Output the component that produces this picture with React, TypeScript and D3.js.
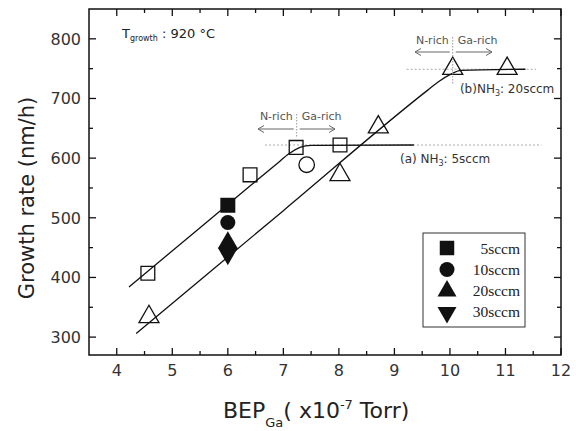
import React from "react";
import * as d3 from "d3";

// ---------- data ----------
const openSquareBep = [4.56, 6.4, 7.23, 8.02];
const openSquareRate = [407, 572, 618, 622];
const openTriangleBep = [4.58, 8.02, 8.71, 10.05, 11.03];
const openTriangleRate = [334, 572, 652, 750, 750];
const openCircleBep = [7.42];
const openCircleRate = [589];

const legendNames = ["5sccm", "10sccm", "20sccm", "30sccm"];
const filledBep = [6.0, 6.0, 6.0, 6.0];
const filledRate = [521, 492, 458, 440];

const fitABep = [4.22, 5.5, 6.9, 7.1, 7.3, 7.5, 9.35];
const fitARate = [384, 483.5, 592, 607.5, 618, 621.5, 622];
const fitBBep = [4.35, 7.0, 9.6, 9.8, 10.0, 10.2, 11.36];
const fitBRate = [306, 512, 714, 728.5, 740, 747, 749];

const satARate = 622;
const satBRate = 749;

const xMajorTicks = [4, 5, 6, 7, 8, 9, 10, 11, 12];
const yMajorTicks = [300, 400, 500, 600, 700, 800];

// ---------- layout ----------
const W = 576;
const H = 431;
const L = 89, R = 561, T = 9, B = 355;

const x = d3.scaleLinear().domain([3.5, 12]).range([L, R]);
const y = d3.scaleLinear().domain([270, 850]).range([B, T]);

const sans = "DejaVu Sans, Arial, sans-serif";
const serif = "Liberation Serif, Times New Roman, serif";

const sym = (type: any, size: number) => d3.symbol().type(type).size(size)() as string;
const triSize = (side: number) => Math.pow(side / (2 * Math.sqrt(3)), 2) * 3 * Math.sqrt(3);

const filledShapes = [
  { path: sym(d3.symbolSquare, 225), rot: 0 },
  { path: sym(d3.symbolCircle, 177), rot: 0 },
  { path: sym(d3.symbolTriangle, triSize(20)), rot: 0 },
  { path: sym(d3.symbolTriangle, triSize(20)), rot: 180 },
];
const legendShapes = [
  { path: sym(d3.symbolSquare, 210), rot: 0 },
  { path: sym(d3.symbolCircle, 177), rot: 0 },
  { path: sym(d3.symbolTriangle, triSize(19)), rot: 0 },
  { path: sym(d3.symbolTriangle, triSize(19)), rot: 180 },
];

function Arrow({ x1, x2, yy }: { x1: number; x2: number; yy: number }) {
  const dir = x2 < x1 ? 1 : -1;
  return (
    <g stroke="#666" strokeWidth={1} fill="none">
      <line x1={x1} x2={x2} y1={yy} y2={yy} />
      <polyline points={`${x2 + dir * 6},${yy - 3.5} ${x2},${yy} ${x2 + dir * 6},${yy + 3.5}`} />
    </g>
  );
}

function RichNote({ cx, ty, ay, leftEnd, rightEnd, vTop, vBot }: any) {
  return (
    <g>
      <line x1={cx} x2={cx} y1={vTop} y2={vBot} stroke="#999" strokeWidth={1} strokeDasharray="1.5,1.5" />
      <text x={cx - 4} y={ty} fontFamily={sans} fontSize={11} fill="#555" textAnchor="end">N-rich</text>
      <text x={cx + 5} y={ty} fontFamily={sans} fontSize={11} fill="#555" textAnchor="start">Ga-rich</text>
      <Arrow x1={cx - 3} x2={leftEnd} yy={ay} />
      <Arrow x1={cx + 3} x2={rightEnd} yy={ay} />
    </g>
  );
}

export default function App() {
  const line = d3
    .line<[number, number]>()
    .x((d) => x(d[0]))
    .y((d) => y(d[1]))
    .curve(d3.curveMonotoneX);
  const fitA = line(fitABep.map((b, i) => [b, fitARate[i]]) as [number, number][]) as string;
  const fitB = line(fitBBep.map((b, i) => [b, fitBRate[i]]) as [number, number][]) as string;

  const xMinor = d3.range(4.5, 12, 1);
  const yMinor = d3.range(350, 850, 100);

  return (
    <svg width={W} height={H} style={{ position: "absolute", left: 0, top: 0, background: "#fff" }}>
      <rect x={0} y={0} width={W} height={H} fill="#fff" />

      {/* dotted saturation guides */}
      <line x1={x(6.67)} x2={x(11.65)} y1={y(satARate)} y2={y(satARate)} stroke="#aaa" strokeWidth={1.2} strokeDasharray="2,2" />
      <line x1={x(9.22)} x2={x(11.55)} y1={y(satBRate)} y2={y(satBRate)} stroke="#aaa" strokeWidth={1.2} strokeDasharray="2,2" />

      {/* fit lines */}
      <path d={fitA} fill="none" stroke="#111" strokeWidth={1.3} />
      <path d={fitB} fill="none" stroke="#111" strokeWidth={1.3} />

      {/* open markers */}
      {openSquareBep.map((b, i) => (
        <path key={"sq" + i} d={sym(d3.symbolSquare, 190)} transform={`translate(${x(b)},${y(openSquareRate[i])})`} fill="none" stroke="#111" strokeWidth={1.3} />
      ))}
      {openTriangleBep.map((b, i) => (
        <path key={"tr" + i} d={sym(d3.symbolTriangle, triSize(20))} transform={`translate(${x(b)},${y(openTriangleRate[i])})`} fill="none" stroke="#111" strokeWidth={1.3} />
      ))}
      {openCircleBep.map((b, i) => (
        <path key={"ci" + i} d={sym(d3.symbolCircle, 190)} transform={`translate(${x(b)},${y(openCircleRate[i])})`} fill="none" stroke="#111" strokeWidth={1.3} />
      ))}

      {/* filled markers */}
      {filledBep.map((b, i) => (
        <path key={"f" + i} d={filledShapes[i].path} transform={`translate(${x(b)},${y(filledRate[i])}) rotate(${filledShapes[i].rot})`} fill="#111" />
      ))}

      {/* frame */}
      <rect x={L} y={T} width={R - L} height={B - T} fill="none" stroke="#111" strokeWidth={1.5} />

      {/* ticks */}
      <g stroke="#111" strokeWidth={1.3}>
        {xMajorTicks.map((t) => (
          <g key={"xt" + t}>
            <line x1={x(t)} x2={x(t)} y1={B} y2={B - 7} />
            <line x1={x(t)} x2={x(t)} y1={T} y2={T + 7} />
          </g>
        ))}
        {xMinor.map((t) => (
          <g key={"xm" + t}>
            <line x1={x(t)} x2={x(t)} y1={B} y2={B - 4} />
            <line x1={x(t)} x2={x(t)} y1={T} y2={T + 4} />
          </g>
        ))}
        {yMajorTicks.map((t) => (
          <g key={"yt" + t}>
            <line x1={L} x2={L + 7} y1={y(t)} y2={y(t)} />
            <line x1={R} x2={R - 7} y1={y(t)} y2={y(t)} />
          </g>
        ))}
        {yMinor.map((t) => (
          <g key={"ym" + t}>
            <line x1={L} x2={L + 4} y1={y(t)} y2={y(t)} />
            <line x1={R} x2={R - 4} y1={y(t)} y2={y(t)} />
          </g>
        ))}
      </g>

      {/* tick labels */}
      {xMajorTicks.map((t) => (
        <text key={"xl" + t} x={x(t)} y={376} textAnchor="middle" fontFamily={sans} fontSize={16} fill="#333">{t}</text>
      ))}
      {yMajorTicks.map((t) => (
        <text key={"yl" + t} x={81} y={y(t) + 6} textAnchor="end" fontFamily={sans} fontSize={16} fill="#333">{t}</text>
      ))}

      {/* axis titles */}
      <text transform={`translate(34,198) rotate(-90)`} textAnchor="middle" fontFamily={sans} fontSize={21} fill="#222">Growth rate (nm/h)</text>
      <text x={223} y={418} fontFamily={sans} fontSize={22} fill="#222">
        BEP
        <tspan fontSize={13} dy={9}>Ga</tspan>
        <tspan dy={-9}>( x10</tspan>
        <tspan fontSize={13} dy={-9}>-7</tspan>
        <tspan dy={9}> Torr)</tspan>
      </text>

      {/* annotations */}
      <text x={122} y={38} fontFamily={sans} fontSize={13} fill="#222">
        T<tspan fontSize={8} dy={3}>growth</tspan>
        <tspan dy={-3}> : 920 °C</tspan>
      </text>

      <RichNote cx={x(7.24)} ty={120} ay={129} leftEnd={258} rightEnd={335} vTop={114} vBot={138} />
      <RichNote cx={x(10.05)} ty={44} ay={52} leftEnd={415} rightEnd={492} vTop={37} vBot={85} />

      <text x={x(9.1)} y={163} fontFamily={sans} fontSize={12} fill="#333">
        (a) NH<tspan fontSize={8} dy={3}>3</tspan><tspan dy={-3}>: 5sccm</tspan>
      </text>
      <text x={x(10.18)} y={93} fontFamily={sans} fontSize={12} fill="#333">
        (b)NH<tspan fontSize={8} dy={3}>3</tspan><tspan dy={-3}>: 20sccm</tspan>
      </text>

      {/* legend */}
      <rect x={423} y={233} width={102} height={94} fill="#fff" stroke="#333" strokeWidth={1} />
      {legendNames.map((n, i) => (
        <g key={"lg" + n}>
          <path d={legendShapes[i].path} transform={`translate(447,${248 + i * 21.5}) rotate(${legendShapes[i].rot})`} fill="#111" />
          <text x={520} y={254 + i * 21} textAnchor="end" fontFamily={serif} fontSize={15.5} fill="#222">{n}</text>
        </g>
      ))}
    </svg>
  );
}
